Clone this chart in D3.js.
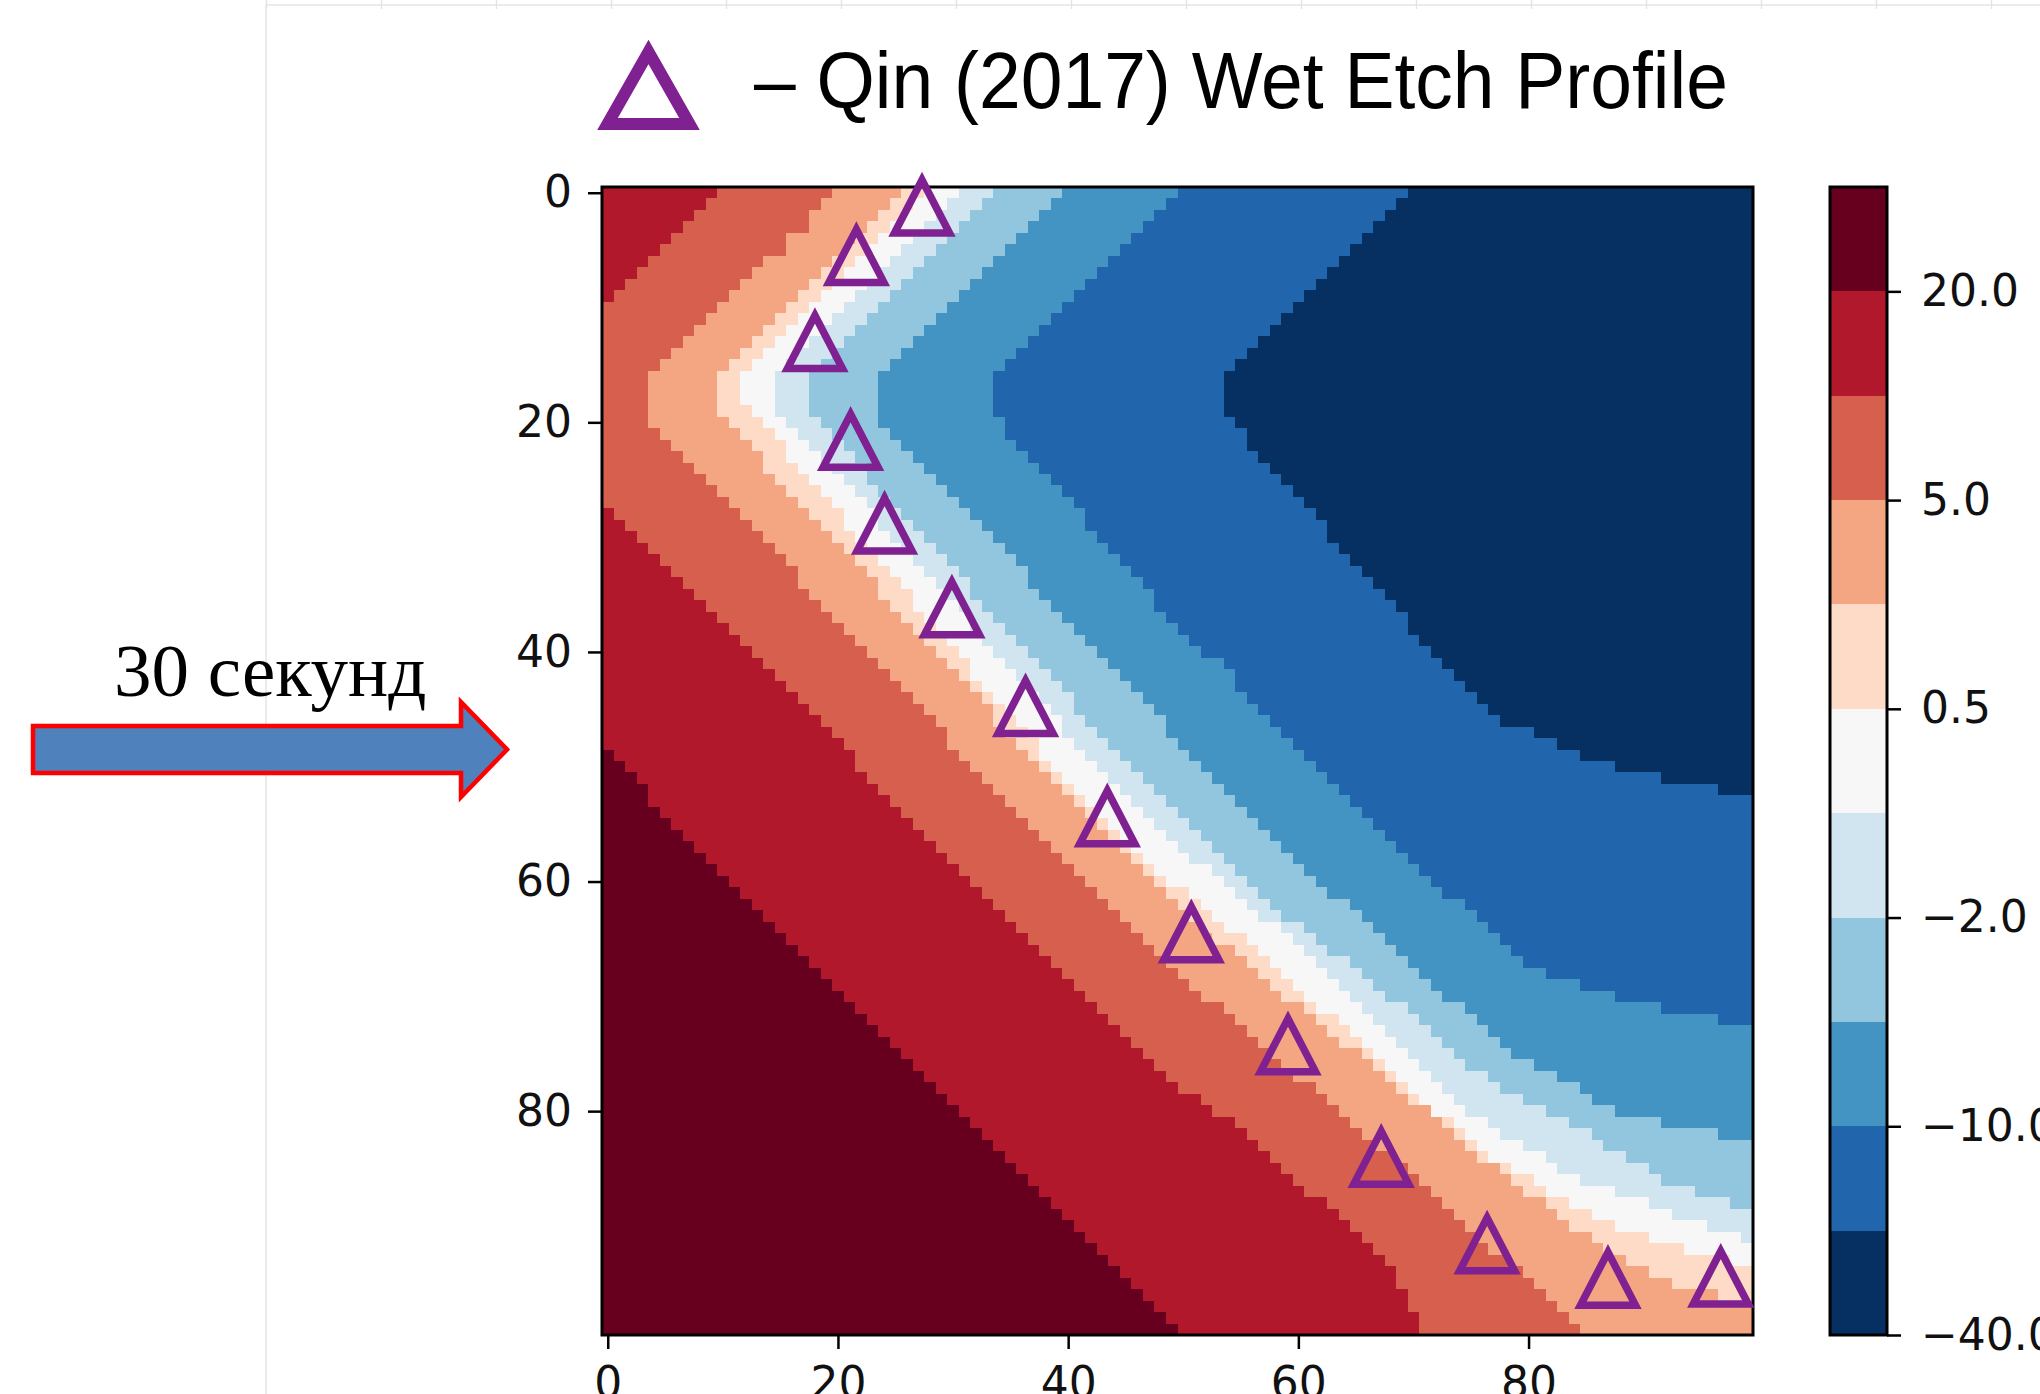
<!DOCTYPE html>
<html>
<head>
<meta charset="utf-8">
<script src="https://cdn.jsdelivr.net/npm/d3@7"></script>
<style>
  html, body { margin: 0; padding: 0; background: #ffffff; }
  svg { display: block; }
</style>
</head>
<body>
<svg id="chart" width="2040" height="1394"></svg>
<script>
// ---------------------------------------------------------------
// Data
// ---------------------------------------------------------------
const nRows = 100;
const nCols = 100;

// colour-band edges of the colour bar, low -> high
const levels = [-40, -20, -10, -5, -2, -1, 0.5, 2, 5, 10, 20, 40];
const levelTicks = [-40, -10, -2, 0.5, 5, 20];

// band colours, low -> high
const bandColors = d3.schemeRdBu[11].slice().reverse();

// Position of each level contour on the grid: [row, column] pairs,
// in grid units counted from the top-left corner (0..100).
const contourM20 = [[0,71],[8,62.5],[15.5,54.8],[16.8,54],[19.7,54],[44.7,75.8],[46.5,78.5],[47.5,81],[48.5,83],[49.5,85],[50.5,88],[51.5,92],[52.5,97],[53.5,101],[100,150]];
const contourM10 = [[0,50.5],[16.3,33.9],[19.7,33.9],[38.1,49.8],[41.9,54],[45.2,56.9],[48.4,60.1],[49.9,61.7],[55.7,66.8],[59.6,71.0],[62.8,74.9],[66.0,78.1],[68.0,81.0],[69.5,84.8],[70.5,88],[71.5,92],[72.5,97],[73.5,101],[100,150]];
const contourM5  = [[0,41],[16,24],[20,24],[49.9,51.7],[55.7,56.9],[59.6,61.1],[62.8,64.9],[66.7,69.1],[69.3,72],[71.8,74.9],[74.4,78.1],[76.7,81],[78.5,84.8],[80.5,88.1],[81.5,92],[82.5,97],[83.5,101],[100,150]];
const contourM2  = [[0,34.1],[16,18],[19.5,18],[50.5,46],[54.4,49.8],[58.9,54],[62.2,57.8],[66,62.7],[69.9,67.8],[74.7,73],[78.6,78.1],[81.8,84.8],[86.4,91.9],[88.3,97.1],[89.2,101],[100,130]];
const contourM1  = [[0,31.9],[17.3,14.6],[18.5,14.6],[50.5,43.1],[57.3,49.8],[59.9,53],[62.5,56.2],[65.1,59.4],[68,62.7],[70.9,65.9],[74.4,69.1],[78,72.3],[80.5,75.5],[82.8,78.7],[84.7,81.9],[86.4,85.2],[87.6,88.4],[88.6,91.6],[90.2,94.8],[91.2,98],[91.8,101],[100,120]];
const contour0_5 = [[0,28.8],[16.8,12.2],[18.5,12.2],[50.5,39.2],[60.9,49.8],[63.5,53],[66,56.2],[68.9,59.4],[71.8,62.7],[74.4,65.9],[77.3,69.1],[80.5,72.3],[83.1,75.5],[85.4,78.7],[87.3,81.9],[89.3,85.2],[90.5,88.4],[91.8,91.6],[92.8,94.8],[93.5,98],[94,101],[100,115]];
const contour2   = [[0,26.3],[16.8,9.8],[19.4,9.8],[50.5,38.1],[62.5,49.8],[66,54],[69.3,57.8],[72.5,62],[75.7,65.9],[78.9,69.7],[82.2,73.9],[86,78.1],[88.6,81.9],[91.2,85.2],[93.1,88.4],[95.1,91.6],[96,94.8],[96.5,97.1],[97,101],[100,108]];
const contour5   = [[0,21],[17,4],[20,4],[49.9,31.8],[68.6,49.8],[71.8,54],[75.1,57.8],[78.9,62],[82.2,65.9],[85.4,69.7],[89.3,73.9],[92.8,77.8],[96.7,81.9],[99.6,84.7],[100,85.2]];
const contour10  = [[0,10.9],[10.6,0],[19.2,-8.6],[27.7,0],[49.9,21.9],[78.3,49.8],[80.9,54],[84.1,57.8],[88,62],[91.2,65.9],[95.1,69.1],[99.6,71],[100,71.3]];
const contour20  = [[0,-40],[48.9,0],[69.3,19.9],[88.6,38.9],[99.6,49.8],[100,50.2]];

// contours ordered by level (-20 ... 20)
const contours = [contourM20, contourM10, contourM5, contourM2, contourM1,
                  contour0_5, contour2, contour5, contour10, contour20];

// Qin (2017) wet etch profile points
const profileCols = [27.3, 21.6, 18.0, 21.1, 24.05, 29.9, 36.3, 43.4, 50.7, 59.1, 67.2, 76.4, 86.9, 96.7];
const profileRows = [1.2, 5.5, 13.0, 21.6, 28.9, 36.2, 44.8, 54.4, 64.5, 74.25, 84.05, 91.6, 94.6, 94.5];

const axisTicks = [0, 20, 40, 60, 80];

const titleText = "\u2013 Qin (2017) Wet Etch Profile";
const arrowText = "30 секунд";

// ---------------------------------------------------------------
// Layout
// ---------------------------------------------------------------
const svg = d3.select("#chart");
const plot = { left: 602, right: 1753, top: 187, bottom: 1335 };
const cbar = { left: 1830, right: 1887, top: 187, bottom: 1335 };
const purple = "#7f2190";
const tickFont = "'DejaVu Sans', sans-serif";

const x = d3.scaleLinear().domain([-0.5, nCols - 0.5]).range([plot.left, plot.right]);
const y = d3.scaleLinear().domain([-0.5, nRows - 0.5]).range([plot.top, plot.bottom]);
const color = d3.scaleOrdinal().domain(d3.range(bandColors.length)).range(bandColors);

// piecewise-linear column position of every contour, as a function of row
const contourScales = contours.map(pts =>
  d3.scaleLinear().domain(pts.map(p => p[0])).range(pts.map(p => p[1])));

// ---------------------------------------------------------------
// Faint slide guides
// ---------------------------------------------------------------
const guides = svg.append("g").attr("stroke", "#e4e4e4").attr("stroke-width", 1.5);
guides.append("line").attr("x1", 266).attr("x2", 2040).attr("y1", 5).attr("y2", 5);
guides.append("line").attr("x1", 266).attr("x2", 266).attr("y1", 5).attr("y2", 1394);
d3.range(266.5, 2040, 115).forEach(gx => {
  guides.append("line").attr("x1", gx).attr("x2", gx).attr("y1", 0).attr("y2", 9);
});

// ---------------------------------------------------------------
// Heat map: one rectangle per run of equal cells in a row
// ---------------------------------------------------------------
const runs = [];
for (let r = 0; r < nRows; r++) {
  const edges = contourScales.map(s => s(r + 0.5));
  let start = 0, prev = -1;
  for (let c = 0; c <= nCols; c++) {
    let cls = -1;
    if (c < nCols) {
      cls = 0;
      edges.forEach(e => { if (c + 0.5 < e) cls++; });
    }
    if (cls !== prev) {
      if (prev >= 0) runs.push({ row: r, c0: start, c1: c - 1, cls: prev });
      start = c; prev = cls;
    }
  }
}

svg.append("g")
  .attr("shape-rendering", "crispEdges")
  .selectAll("rect")
  .data(runs)
  .join("rect")
  .attr("x", d => x(d.c0 - 0.5))
  .attr("width", d => x(d.c1 + 0.5) - x(d.c0 - 0.5))
  .attr("y", d => y(d.row - 0.5))
  .attr("height", d => y(d.row + 0.5) - y(d.row - 0.5))
  .attr("fill", d => color(d.cls));

// frame
svg.append("rect")
  .attr("x", plot.left).attr("y", plot.top)
  .attr("width", plot.right - plot.left).attr("height", plot.bottom - plot.top)
  .attr("fill", "none").attr("stroke", "#000").attr("stroke-width", 3);

// axes
function styleAxis(g) {
  g.select(".domain").remove();
  g.selectAll(".tick line").attr("stroke", "#000").attr("stroke-width", 2.5);
  g.selectAll(".tick text").attr("fill", "#111")
    .style("font-family", tickFont).style("font-size", "44px");
}

svg.append("g")
  .attr("transform", `translate(${plot.left},0)`)
  .call(d3.axisLeft(y).tickValues(axisTicks).tickSize(14).tickPadding(16).tickFormat(d3.format("d")))
  .call(styleAxis);

svg.append("g")
  .attr("transform", `translate(0,${plot.bottom})`)
  .call(d3.axisBottom(x).tickValues(axisTicks).tickSize(14).tickPadding(18).tickFormat(d3.format("d")))
  .call(styleAxis);

// ---------------------------------------------------------------
// Profile markers
// ---------------------------------------------------------------
function triangle(hw, hh) {
  return `M0,${-hh}L${-hw},${hh}L${hw},${hh}Z`;
}

svg.append("g")
  .selectAll("path")
  .data(d3.range(profileCols.length))
  .join("path")
  .attr("transform", i => `translate(${x(profileCols[i])},${y(profileRows[i])})`)
  .attr("d", triangle(27.5, 26.5))
  .attr("fill", "none")
  .attr("stroke", purple)
  .attr("stroke-width", 7.5)
  .attr("stroke-linejoin", "miter");

// ---------------------------------------------------------------
// Colour bar
// ---------------------------------------------------------------
const cb = d3.scaleLinear().domain([0, levels.length - 1]).range([cbar.bottom, cbar.top]);

svg.append("g")
  .attr("shape-rendering", "crispEdges")
  .selectAll("rect")
  .data(d3.range(levels.length - 1))
  .join("rect")
  .attr("x", cbar.left)
  .attr("width", cbar.right - cbar.left)
  .attr("y", k => cb(k + 1))
  .attr("height", k => cb(k) - cb(k + 1))
  .attr("fill", k => color(k));

svg.append("rect")
  .attr("x", cbar.left).attr("y", cbar.top)
  .attr("width", cbar.right - cbar.left).attr("height", cbar.bottom - cbar.top)
  .attr("fill", "none").attr("stroke", "#000").attr("stroke-width", 3);

const fmt = d3.format(".1f");
svg.append("g")
  .attr("transform", `translate(${cbar.right},0)`)
  .call(d3.axisRight(cb)
    .tickValues(levelTicks.map(v => levels.indexOf(v)))
    .tickSize(14).tickPadding(20)
    .tickFormat(i => fmt(levels[i])))
  .call(styleAxis);

// ---------------------------------------------------------------
// Legend title
// ---------------------------------------------------------------
svg.append("path")
  .attr("transform", "translate(648.5,88)")
  .attr("d", triangle(41, 36))
  .attr("fill", "none")
  .attr("stroke", purple)
  .attr("stroke-width", 12)
  .attr("stroke-linejoin", "miter");

svg.append("text")
  .attr("transform", "translate(754,108) scale(1,1.06)")
  .style("font-family", "'Liberation Sans', Arial, sans-serif")
  .style("font-size", "75px")
  .attr("fill", "#000")
  .text(titleText);

// ---------------------------------------------------------------
// Time annotation arrow
// ---------------------------------------------------------------
svg.append("text")
  .attr("x", 114).attr("y", 696)
  .style("font-family", "'Liberation Serif', 'Times New Roman', serif")
  .style("font-size", "75px")
  .attr("fill", "#000")
  .text(arrowText);

const arrowPts = [[33,726],[461,726],[461,702],[507,749.5],[461,797],[461,773],[33,773]];
svg.append("path")
  .attr("d", d3.line()(arrowPts) + "Z")
  .attr("fill", "#4f81bd")
  .attr("stroke", "#ff0000")
  .attr("stroke-width", 4.5)
  .attr("stroke-linejoin", "miter");
</script>
</body>
</html>
